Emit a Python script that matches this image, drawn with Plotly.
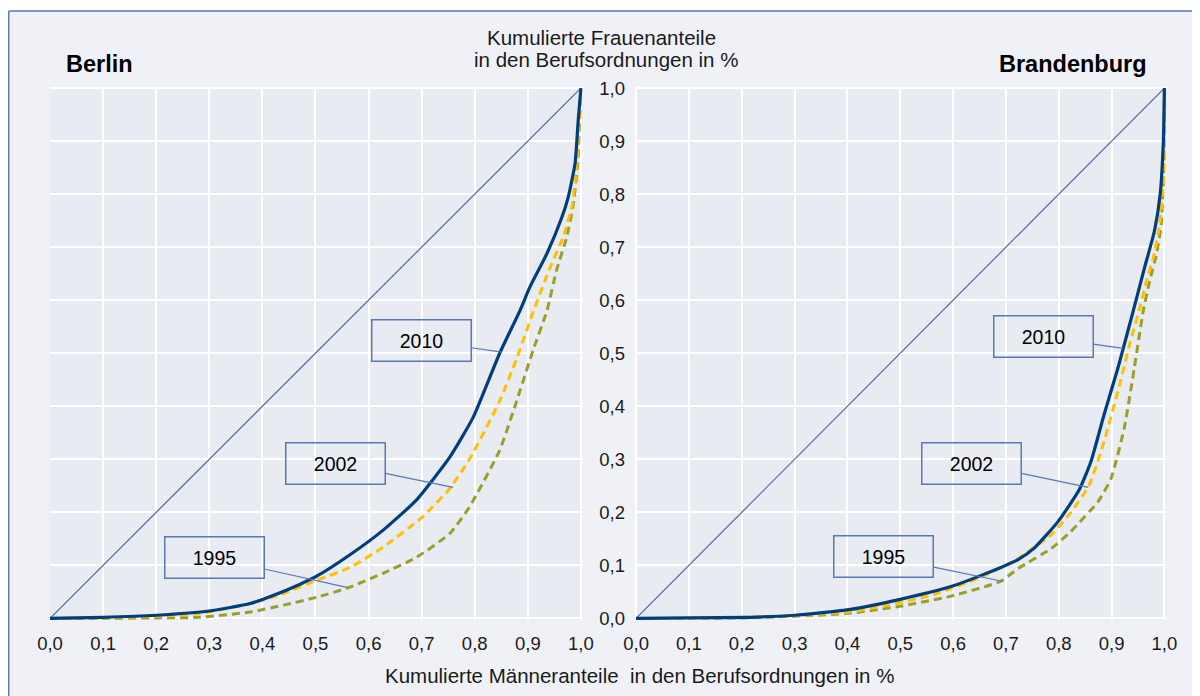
import plotly.graph_objects as go

# ---------------- data ----------------
tick_vals = [0.0, 0.1, 0.2, 0.3, 0.4, 0.5, 0.6, 0.7, 0.8, 0.9, 1.0]
tick_labels = ["0,0", "0,1", "0,2", "0,3", "0,4", "0,5", "0,6", "0,7", "0,8", "0,9", "1,0"]

diag_x = [0.0, 1.0]
diag_y = [0.0, 1.0]

berlin_x_2010 = [0, 0.1, 0.2, 0.3, 0.377, 0.42, 0.47, 0.503, 0.565, 0.627, 0.69, 0.753, 0.797, 0.847, 0.885, 0.904, 0.936, 0.964, 0.976, 0.989, 0.995, 1.0]
berlin_y_2010 = [0, 0.002, 0.006, 0.014, 0.028, 0.043, 0.064, 0.08, 0.12, 0.166, 0.223, 0.304, 0.379, 0.5, 0.58, 0.625, 0.688, 0.756, 0.794, 0.858, 0.94, 1.0]

berlin_x_2002 = [0, 0.1, 0.2, 0.28, 0.377, 0.44, 0.503, 0.565, 0.627, 0.70, 0.753, 0.79, 0.847, 0.879, 0.913, 0.942, 0.966, 0.983, 0.992, 1.0]
berlin_y_2002 = [0, 0.001, 0.004, 0.009, 0.028, 0.047, 0.072, 0.096, 0.134, 0.19, 0.245, 0.3, 0.41, 0.49, 0.586, 0.662, 0.718, 0.776, 0.85, 1.0]

berlin_x_1995 = [0, 0.1, 0.2, 0.28, 0.377, 0.44, 0.503, 0.565, 0.627, 0.69, 0.753, 0.79, 0.847, 0.879, 0.91, 0.936, 0.954, 0.973, 0.985, 0.994, 1.0]
berlin_y_1995 = [0, 0.0, 0.001, 0.002, 0.012, 0.025, 0.04, 0.059, 0.085, 0.115, 0.16, 0.21, 0.317, 0.41, 0.506, 0.58, 0.656, 0.718, 0.776, 0.858, 1.0]

brb_x_2010 = [0, 0.1, 0.216, 0.3, 0.406, 0.5, 0.596, 0.658, 0.723, 0.753, 0.799, 0.839, 0.861, 0.886, 0.912, 0.941, 0.962, 0.981, 0.992, 0.998, 1.0]
brb_y_2010 = [0, 0.001, 0.002, 0.006, 0.017, 0.036, 0.06, 0.083, 0.111, 0.132, 0.183, 0.243, 0.296, 0.385, 0.472, 0.58, 0.66, 0.73, 0.8, 0.9, 1.0]

brb_x_2002 = [0, 0.1, 0.2, 0.3, 0.4, 0.469, 0.564, 0.658, 0.723, 0.786, 0.823, 0.858, 0.886, 0.915, 0.935, 0.952, 0.966, 0.979, 0.991, 0.998, 1.0]
brb_y_2002 = [0, 0.0, 0.002, 0.005, 0.012, 0.023, 0.045, 0.08, 0.113, 0.158, 0.2, 0.252, 0.334, 0.44, 0.52, 0.58, 0.636, 0.68, 0.743, 0.825, 1.0]

brb_x_1995 = [0, 0.1, 0.2, 0.3, 0.406, 0.5, 0.596, 0.69, 0.723, 0.786, 0.823, 0.875, 0.899, 0.924, 0.943, 0.96, 0.972, 0.985, 0.994, 0.999, 1.0]
brb_y_1995 = [0, 0.0, 0.001, 0.004, 0.01, 0.023, 0.042, 0.07, 0.094, 0.132, 0.164, 0.221, 0.264, 0.359, 0.472, 0.58, 0.636, 0.687, 0.743, 0.86, 1.0]

# label boxes: (text, box center x, box center y, tip x, tip y)
berlin_labels = [("2010", 0.700, 0.524, 0.851, 0.502),
                 ("2002", 0.538, 0.293, 0.759, 0.247),
                 ("1995", 0.310, 0.114, 0.559, 0.0585)]
brb_labels = [("2010", 0.771, 0.531, 0.922, 0.509),
              ("2002", 0.635, 0.293, 0.856, 0.247),
              ("1995", 0.469, 0.116, 0.693, 0.070)]

# ---------------- style ----------------
OFF = 8                      # browser body margin
W, H = 1200 - OFF, 696 - OFF
FONT = "Liberation Sans, Arial, sans-serif"
C2010 = "#003E7E"
C2002 = "#FFC000"
C1995 = "#9A9F2A"
CDIAG = "#4A68A6"
CFRAME = "#5878B4"
PLOT_BG = "#E8EBF2"
PAPER_BG = "#F0F1F7"

fig = go.Figure()

def add_series(xa, ya, xs, ys, color, dash, width, name, shape="spline"):
    fig.add_trace(go.Scatter(x=xs, y=ys, mode="lines", name=name, xaxis=xa, yaxis=ya,
                             line=dict(color=color, width=width, dash=dash, shape=shape,
                                       smoothing=0.5),
                             showlegend=False, hoverinfo="skip"))

for xa, ya, d in [("x", "y", (berlin_x_1995, berlin_y_1995, berlin_x_2002, berlin_y_2002, berlin_x_2010, berlin_y_2010)),
                  ("x2", "y2", (brb_x_1995, brb_y_1995, brb_x_2002, brb_y_2002, brb_x_2010, brb_y_2010))]:
    add_series(xa, ya, diag_x, diag_y, CDIAG, "solid", 1.2, "Gleichverteilung", shape="linear")
    add_series(xa, ya, d[0], d[1], C1995, "8px,5px", 3, "1995")
    add_series(xa, ya, d[2], d[3], C2002, "8px,5px", 3, "2002")
    add_series(xa, ya, d[4], d[5], C2010, "solid", 3.2, "2010")

def px_x(p):
    return (p - OFF) / W

def px_y(p):
    return 1 - (p - OFF) / H

y_dom = [px_y(620), px_y(87)]
axis_common = dict(showgrid=True, gridcolor="white", gridwidth=1.5, zeroline=False,
                   showline=False, ticks="", tickvals=tick_vals, ticktext=tick_labels,
                   automargin=False,
                   tickfont=dict(family=FONT, size=18.5, color="#1a1a1a"))

fig.update_layout(
    width=W, height=H,
    margin=dict(l=0, r=0, t=0, b=0, pad=0, autoexpand=False),
    paper_bgcolor=PAPER_BG, plot_bgcolor=PLOT_BG,
    font=dict(family=FONT, color="#1a1a1a"),
    xaxis=dict(domain=[px_x(49.5), px_x(582.5)], range=[-0.001, 1.003], anchor="y",
               ticklabelstandoff=10, **axis_common),
    yaxis=dict(domain=y_dom, range=[-0.003, 1.002], anchor="x", showticklabels=False,
               **axis_common),
    xaxis2=dict(domain=[px_x(635), px_x(1166)], range=[-0.002, 1.003], anchor="y2",
                ticklabelstandoff=10, **axis_common),
    yaxis2=dict(domain=y_dom, range=[-0.003, 1.002], anchor="x2", ticklabelstandoff=9,
                **axis_common),
)

# outer frame: blue lines on left and top (page area outside is white)
fig.add_shape(type="rect", xref="paper", yref="paper", x0=0, x1=1, y0=px_y(11), y1=1,
              fillcolor="white", line=dict(width=0), layer="below")
fig.add_shape(type="line", xref="paper", yref="paper", x0=px_x(8.7), x1=px_x(8.7), y0=0, y1=px_y(11),
              line=dict(color=CFRAME, width=1.5))
fig.add_shape(type="line", xref="paper", yref="paper", x0=px_x(8.7), x1=1, y0=px_y(11), y1=px_y(11),
              line=dict(color=CFRAME, width=1.5))

# titles
fig.add_annotation(text="Kumulierte Frauenanteile",
                   xref="paper", yref="paper", x=px_x(601), y=px_y(38), showarrow=False,
                   xanchor="center", yanchor="middle",
                   font=dict(family=FONT, size=20.5, color="#1a1a1a"))
fig.add_annotation(text="in den Berufsordnungen in %",
                   xref="paper", yref="paper", x=px_x(606), y=px_y(59), showarrow=False,
                   xanchor="center", yanchor="middle",
                   font=dict(family=FONT, size=20.5, color="#1a1a1a"))
fig.add_annotation(text="Kumulierte Männeranteile \u00a0in den Berufsordnungen in %",
                   xref="paper", yref="paper", x=px_x(639), y=px_y(675), showarrow=False,
                   xanchor="center", yanchor="middle",
                   font=dict(family=FONT, size=20.5, color="#1a1a1a"))
fig.add_annotation(text="<b>Berlin</b>", xref="paper", yref="paper", x=px_x(64), y=px_y(64),
                   showarrow=False, xanchor="left", yanchor="middle",
                   font=dict(family=FONT, size=23.5, color="black"))
fig.add_annotation(text="<b>Brandenburg</b>", xref="paper", yref="paper", x=px_x(1149), y=px_y(64),
                   showarrow=False, xanchor="right", yanchor="middle",
                   font=dict(family=FONT, size=23.5, color="black"))

# label boxes with leader lines
for (xa, ya), labels in [(("x", "y"), berlin_labels), (("x2", "y2"), brb_labels)]:
    for txt, bx, by, tx, ty in labels:
        fig.add_annotation(text=txt, x=tx, y=ty, xref=xa, yref=ya,
                           ax=bx, ay=by, axref=xa, ayref=ya,
                           showarrow=True, arrowhead=0, arrowwidth=1.2, arrowcolor=CFRAME,
                           width=96, height=38, borderpad=1, bordercolor=CFRAME, borderwidth=1.5,
                           bgcolor="rgba(0,0,0,0)",
                           font=dict(family=FONT, size=19.5, color="black"))

fig.write_html("out.html")
